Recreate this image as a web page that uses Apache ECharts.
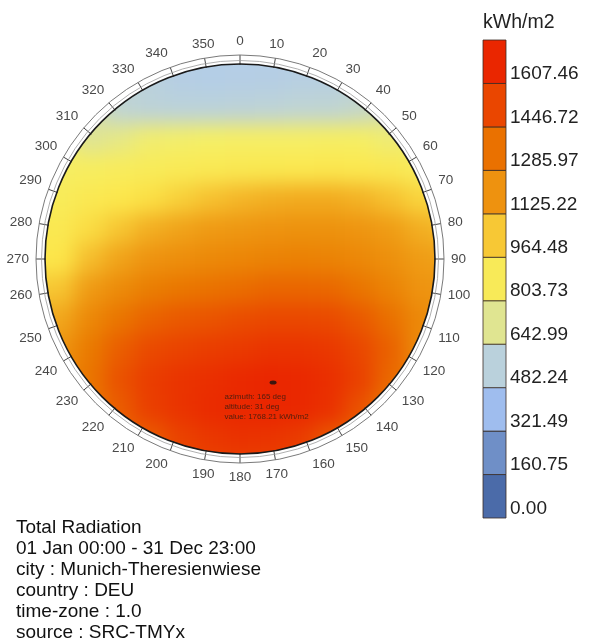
<!DOCTYPE html>
<html><head><meta charset="utf-8">
<script src="https://cdn.jsdelivr.net/npm/echarts@6/dist/echarts.min.js"></script>
<style>
html,body{margin:0;padding:0;background:#fff;}
#wrap{position:relative;width:590px;height:644px;overflow:hidden;background:#fff;}
#heat,#main{position:absolute;left:0;top:0;width:590px;height:644px;}
#heat{filter:blur(10px);}
</style></head><body>
<div id="wrap"><div id="heat"></div><div id="main"></div></div>
<script>
// ---------- data ----------
const angleLabels = ['0','10','20','30','40','50','60','70','80','90','100','110','120','130','140','150','160','170',
  '180','190','200','210','220','230','240','250','260','270','280','290','300','310','320','330','340','350'];
const legendLabels = ['0.00','160.75','321.49','482.24','642.99','803.73','964.48','1125.22','1285.97','1446.72','1607.46'];
const legendMax = 1768.21;
const legendTitle = 'kWh/m2';
const infoLines = ['Total Radiation','01 Jan 00:00 - 31 Dec 23:00','city : Munich-Theresienwiese','country : DEU','time-zone : 1.0','source : SRC-TMYx'];
const peakAzimuth = 165;
const peakAltitude = 31;
const peakValue = 1768.21;

// dome values (kWh/m2), grid rows north(top) -> south(bottom), columns west(left) -> east(right)
const row00 = [660, 630, 580, 540, 510, 490, 480, 470, 475, 485, 495, 510, 560, 610, 650];
const row01 = [700, 660, 620, 565, 530, 490, 480, 485, 490, 500, 505, 540, 600, 650, 700];
const row02 = [760, 710, 660, 570, 550, 540, 540, 550, 555, 570, 575, 600, 650, 700, 760];
const row03 = [800, 780, 700, 730, 770, 780, 790, 800, 800, 800, 810, 810, 760, 780, 820];
const row04 = [840, 820, 840, 860, 880, 900, 915, 930, 940, 945, 950, 945, 930, 870, 900];
const row05 = [900, 880, 930, 970, 1000, 1040, 1080, 1110, 1130, 1140, 1140, 1120, 1080, 1030, 1010];
const row06 = [940, 930, 1010, 1070, 1130, 1160, 1190, 1210, 1230, 1240, 1240, 1220, 1180, 1130, 1100];
const row07 = [980, 980, 1090, 1160, 1230, 1260, 1290, 1310, 1330, 1340, 1330, 1300, 1250, 1180, 1160];
const row08 = [1060, 1070, 1190, 1280, 1360, 1390, 1410, 1430, 1460, 1460, 1450, 1400, 1330, 1230, 1200];
const row09 = [1130, 1150, 1300, 1400, 1470, 1510, 1530, 1560, 1580, 1580, 1570, 1510, 1420, 1290, 1240];
const row10 = [1190, 1220, 1380, 1490, 1570, 1610, 1640, 1660, 1690, 1690, 1670, 1590, 1480, 1280, 1260];
const row11 = [1240, 1280, 1400, 1540, 1640, 1690, 1720, 1750, 1768, 1760, 1720, 1620, 1450, 1320, 1290];
const row12 = [1290, 1330, 1380, 1500, 1630, 1690, 1740, 1760, 1768, 1760, 1710, 1540, 1380, 1340, 1310];
const row13 = [1330, 1370, 1410, 1450, 1500, 1610, 1670, 1700, 1690, 1650, 1520, 1440, 1410, 1380, 1350];
const row14 = [1360, 1430, 1450, 1480, 1530, 1570, 1600, 1610, 1605, 1590, 1530, 1480, 1430, 1400, 1380];
const heatRows = [row00,row01,row02,row03,row04,row05,row06,row07,row08,row09,row10,row11,row12,row13,row14];

// ---------- styles / layout ----------
const gradientColors = ['#4b6ba9','#7393ca','#aac8f7','#c1d5d0','#f5ef67','#fce64a','#ef9c15','#ea7b00','#ea4a00','#ea2600'];
const legendColors = ['#4b6ba9','#6f8fc7','#9fbdee','#bad1dc','#e0e591','#f8ea58','#f7c835','#ee920f','#ea7100','#ea4600','#ea2600'];
const FONT = 'Liberation Sans, Arial, sans-serif';
const CX = 240, CY = 259, R_DOME = 195, R_RING = 204, HALF = 225;

// ---------- heat layer ----------
const heatData = [];
heatRows.forEach((row, i) => row.forEach((v, j) => heatData.push([j, i, v])));
const heatChart = echarts.init(document.getElementById('heat'), null, {renderer: 'canvas'});
heatChart.setOption({
  animation: false,
  grid: {left: CX - HALF, top: CY - HALF, width: HALF * 2, height: HALF * 2},
  xAxis: {type: 'category', data: row00.map((_, j) => 'c' + j), show: false},
  yAxis: {type: 'category', data: heatRows.map((_, i) => 'r' + i), show: false, inverse: true},
  visualMap: {show: false, type: 'continuous', min: 0, max: legendMax, dimension: 2, inRange: {color: gradientColors}},
  series: [{type: 'heatmap', data: heatData, itemStyle: {borderWidth: 0}}]
});

// ---------- main layer ----------
const legendStep = legendMax / legendLabels.length;
const legendBins = legendLabels.map((l, i) => [i * legendStep, (i + 1) * legendStep, i]);
const hiddenAxis = {axisLine: {show: false}, axisTick: {show: false}, axisLabel: {show: false}, splitLine: {show: false}, splitArea: {show: false}};

const chart = echarts.init(document.getElementById('main'), null, {renderer: 'canvas'});
chart.setOption({
  animation: false,
  backgroundColor: 'transparent',
  textStyle: {fontFamily: FONT},
  title: [
    {text: legendTitle, left: 483, top: 13, padding: 0, textStyle: {fontFamily: FONT, fontSize: 19.5, fontWeight: 'normal', color: '#222'}},
    {text: infoLines.join('\n'), left: 16, top: 517, padding: 0, textStyle: {fontFamily: FONT, fontSize: 19, fontWeight: 'normal', lineHeight: 21, color: '#111'}}
  ],
  graphic: [
    {type: 'ring', silent: true, z: -100, shape: {cx: CX, cy: CY, r: 900, r0: R_DOME}, style: {fill: '#fff'}},
    {type: 'circle', silent: true, z: 50, shape: {cx: CX, cy: CY, r: R_DOME + 3.5}, style: {fill: 'none', stroke: '#9a9a9a', lineWidth: 0.8}},
    {type: 'circle', silent: true, z: 50, shape: {cx: CX, cy: CY, r: R_DOME}, style: {fill: 'none', stroke: '#1a1a1a', lineWidth: 1.6}}
  ],
  polar: [{center: [CX, CY], radius: R_RING}, {center: [CX, CY], radius: R_DOME}],
  angleAxis: [
    {polarIndex: 0, type: 'value', min: 0, max: 360, interval: 10, startAngle: 90, clockwise: true,
     axisLine: {show: true, lineStyle: {color: '#7a7a7a', width: 1}},
     axisTick: {show: true, inside: true, length: 10, lineStyle: {color: '#444', width: 1}},
     axisLabel: {show: true, margin: 7, fontSize: 13.5, color: '#4a4a4a', fontFamily: FONT,
       formatter: v => { const k = Math.round(v / 10); return k < angleLabels.length ? angleLabels[k] : ''; }},
     splitLine: {show: false}, splitArea: {show: false}},
    Object.assign({polarIndex: 1, type: 'value', min: 0, max: 360, startAngle: 90, clockwise: true}, hiddenAxis)
  ],
  radiusAxis: [
    Object.assign({polarIndex: 0, type: 'value', min: 0, max: 1}, hiddenAxis),
    Object.assign({polarIndex: 1, type: 'value', min: 0, max: 90, inverse: true}, hiddenAxis)
  ],
  grid: {left: 483, top: 40, width: 23, height: 478},
  xAxis: {type: 'value', min: 0, max: 1, show: false},
  yAxis: {type: 'value', min: 0, max: legendMax, interval: legendStep, position: 'right',
    axisLine: {show: false}, axisTick: {show: false}, splitLine: {show: false},
    axisLabel: {margin: 4, fontSize: 19, color: '#222', fontFamily: FONT, verticalAlign: 'bottom',
      showMaxLabel: true,
      formatter: v => { const k = Math.round(v / legendStep); return k < legendLabels.length ? legendLabels[k] : ''; }}},
  series: [
    {type: 'custom', coordinateSystem: 'cartesian2d', data: legendBins, z: 5,
     renderItem: (params, api) => {
       const p0 = api.coord([0, api.value(0)]);
       const p1 = api.coord([1, api.value(1)]);
       return {type: 'rect', shape: {x: p0[0], y: p1[1], width: p1[0] - p0[0], height: p0[1] - p1[1]},
         style: {fill: legendColors[api.value(2)], stroke: '#3a2c24', lineWidth: 0.8}};
     }},
    {type: 'scatter', coordinateSystem: 'polar', polarIndex: 1, z: 20,
     data: [[peakAltitude, peakAzimuth]], symbol: 'circle', symbolSize: [7, 4],
     itemStyle: {color: '#111'},
     label: {show: true, position: [-45, 11], align: 'left', verticalAlign: 'top',
       fontSize: 8, lineHeight: 10, color: '#2a1a10', fontFamily: FONT,
       formatter: () => 'azimuth: ' + peakAzimuth + ' deg\naltitude: ' + peakAltitude + ' deg\nvalue: ' + peakValue.toFixed(2) + ' kWh/m2'}}
  ]
});
</script></body></html>
